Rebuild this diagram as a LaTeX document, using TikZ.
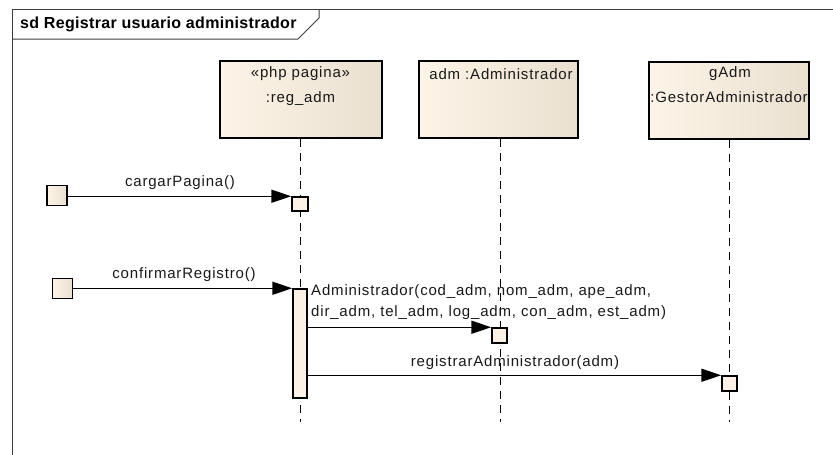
\documentclass[tikz,border=0pt]{standalone}
\usepackage{fontspec}
\setmainfont{Liberation Sans}
\newfontfamily\labfont[LetterSpace=5.5]{Liberation Sans}
\newfontfamily\ttlfont[LetterSpace=2]{Liberation Sans}
\usetikzlibrary{arrows.meta}
\definecolor{boxL}{RGB}{252,244,231}
\definecolor{boxR}{RGB}{234,224,208}
\definecolor{actfill}{RGB}{251,241,228}
\definecolor{framec}{RGB}{60,60,60}
\definecolor{txtc}{RGB}{25,25,25}
\begin{document}
\begin{tikzpicture}[x=1pt,y=-1pt,
  lbl/.style={font=\labfont\fontsize{15}{17}\selectfont, text=txtc, inner sep=0pt},
  ttl/.style={font=\ttlfont\bfseries\fontsize{16}{18}\selectfont, inner sep=0pt, anchor=west},
  headbox/.style={draw=black, line width=2pt, left color=boxL, right color=boxR,
    minimum height=77pt, inner sep=0pt},
  lifeline/.style={draw=black, line width=1.8pt, dash pattern=on 8pt off 6pt},
  actbox/.style={draw=black, line width=1.5pt, fill=actfill, inner sep=0pt},
  foundsq/.style={draw=black, line width=1.5pt, left color=boxL, right color=boxR,
    minimum width=20pt, minimum height=20pt, inner sep=0pt},
  msg/.style={draw=black, line width=1.5pt, -{Triangle[length=20pt,width=13pt]}}]
\useasboundingbox (0,0) rectangle (833,455);
% frame
\draw[framec, line width=1pt] (12,455) -- (12,9) -- (833,9);
\draw[framec, line width=1pt] (12,39) -- (298,39) -- (319,18) -- (319,9);
\node[ttl] (title) at (20,24) {sd Registrar usuario administrador};
% lifeline heads
\node[headbox, minimum width=162pt] (reg) at (300.5,99.5) {};
\node[headbox, minimum width=159pt] (adm) at (498.5,99.5) {};
\node[headbox, minimum width=160pt] (gadm) at (729,100) {};
\node[lbl] (regt1) at (300.5,74) {«php pagina»};
\node[lbl] (regt2) at (300.5,99) {:reg\_adm};
\node[lbl] (admt) at (501,74) {adm :Administrador};
\node[lbl] (gadmt1) at (730,74) {gAdm};
\node[lbl] (gadmt2) at (729,97) {:GestorAdministrador};
% lifeline ends
\coordinate (e1) at (300.5,422);
\coordinate (e2) at (500.5,422);
\coordinate (e3) at (729.5,422);
\draw[lifeline] (reg.south -| e1) -- (e1);
\draw[lifeline] (adm.south -| e2) -- (e2);
\draw[lifeline] (gadm.south -| e3) -- (e3);
% activations
\node[actbox, minimum width=16pt, minimum height=14pt] (a1) at (300,204) {};
\node[actbox, minimum width=14pt, minimum height=109pt] (a2) at (300,343.5) {};
\node[actbox, minimum width=15pt, minimum height=15pt] (a3) at (499.5,335.5) {};
\node[actbox, minimum width=15pt, minimum height=15pt] (a4) at (729.5,383.5) {};
% found message starts
\node[foundsq] (f1) at (57,195.5) {};
\node[foundsq] (f2) at (62.5,288.5) {};
% messages
\draw[msg] (a1.north west -| f1.east) -- (a1.north west);
\node[lbl] (m1) at (180,183) {cargarPagina()};
\draw[msg] (a2.north west -| f2.east) -- (a2.north west);
\node[lbl] (m2) at (184,275) {confirmarRegistro()};
\draw[msg] (a3.north west -| a2.east) -- (a3.north west);
\node[lbl, anchor=west] (m3a) at (311,292) {Administrador(cod\_adm, nom\_adm, ape\_adm,};
\node[lbl, anchor=west] (m3b) at (311,313) {dir\_adm, tel\_adm, log\_adm, con\_adm, est\_adm)};
\draw[msg] (a4.north west -| a2.east) -- (a4.north west);
\node[lbl] (m4) at (515,363) {registrarAdministrador(adm)};
\end{tikzpicture}
\end{document}
